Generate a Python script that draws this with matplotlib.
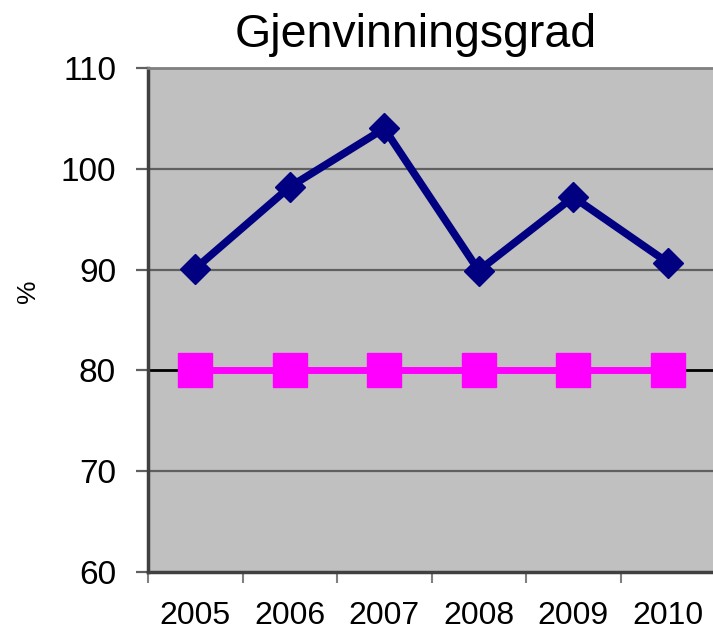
import matplotlib
matplotlib.use("Agg")
import matplotlib.pyplot as plt
import numpy as np

plt.rcParams["font.family"] = ["Liberation Sans", "DejaVu Sans"]

YEARS = ["2005", "2006", "2007", "2008", "2009", "2010"]
RECOVERY = [90.1, 98.2, 104.0, 89.9, 97.2, 90.7]
TARGET = [80, 80, 80, 80, 80, 80]
Y_TICKS = [60, 70, 80, 90, 100, 110]


def main() -> None:
    figure = plt.figure(figsize=(7.13, 6.34), dpi=100)
    axis = figure.add_axes([148 / 713, 62 / 634, 567 / 713, 504 / 634])
    axis.set_facecolor("#c0c0c0")

    x = np.arange(len(YEARS))
    for value in Y_TICKS[1:]:
        axis.axhline(
            value,
            color="#000000" if value == 80 else "#606060",
            linewidth=2.0 if value == 80 else 1.6,
            zorder=1,
        )

    axis.plot(
        x,
        RECOVERY,
        color="#000080",
        linewidth=5.5,
        marker="D",
        markersize=15,
        zorder=3,
    )
    axis.plot(
        x,
        TARGET,
        color="#ff00ff",
        linewidth=5,
        marker="s",
        markersize=24,
        zorder=3,
    )

    axis.set_xlim(-0.5, len(YEARS) - 0.5)
    axis.set_ylim(60, 110)
    axis.set_yticks(Y_TICKS)
    axis.set_yticklabels([str(v) for v in Y_TICKS], fontsize=24)
    axis.set_xticks(x)
    axis.set_xticklabels(YEARS, fontsize=23)
    axis.set_xticks(np.arange(len(YEARS) + 1) - 0.5, minor=True)
    axis.tick_params(axis="x", which="major", length=0, pad=21)
    axis.tick_params(axis="x", which="minor", length=8, width=1.5, color="#808080")
    axis.tick_params(axis="y", length=9, width=1.6, color="#606060", pad=14)

    for side in ("left", "bottom"):
        axis.spines[side].set_color("#404040")
        axis.spines[side].set_linewidth(2.5)
    axis.spines["right"].set_visible(False)
    axis.spines["top"].set_color("#808080")
    axis.spines["top"].set_linewidth(2.0)

    figure.text(28 / 713, 1 - 291 / 634, "%", fontsize=19, rotation=90,
                ha="center", va="center")
    figure.text(416 / 713, 1 - 47 / 634, "Gjenvinningsgrad", fontsize=33.5,
                ha="center", va="baseline")

    figure.savefig("out.png", dpi=100)
    plt.close(figure)


if __name__ == "__main__":
    main()
